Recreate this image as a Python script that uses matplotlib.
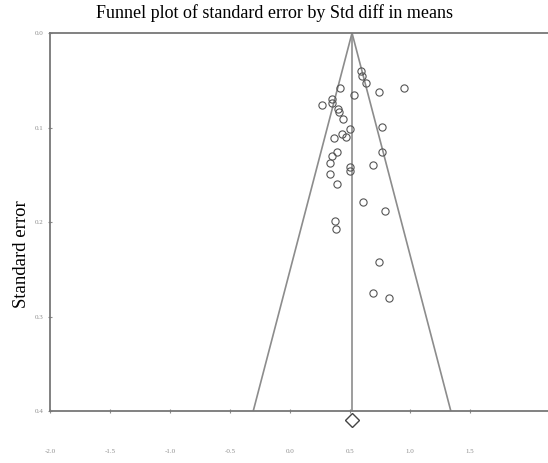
import numpy as np
import matplotlib
matplotlib.use('Agg')
import matplotlib.pyplot as plt

# Study effects (Std diff in means) and standard errors
effect = [0.592, 0.600, 0.633, 0.950, 0.742, 0.417, 0.533, 0.350, 0.350, 0.267,
          0.400, 0.408, 0.442, 0.767, 0.500, 0.433, 0.467, 0.367, 0.767, 0.392,
          0.350, 0.333, 0.692, 0.500, 0.500, 0.333, 0.392, 0.608, 0.792, 0.375,
          0.383, 0.742, 0.692, 0.825]
std_err = [0.040, 0.046, 0.053, 0.058, 0.062, 0.058, 0.066, 0.070, 0.074, 0.076,
           0.080, 0.084, 0.091, 0.099, 0.102, 0.107, 0.110, 0.111, 0.126, 0.126,
           0.130, 0.138, 0.140, 0.142, 0.146, 0.149, 0.160, 0.179, 0.188, 0.199,
           0.207, 0.242, 0.275, 0.280]
pooled = 0.517
se_max = 0.4

x_ticks = [-2.0, -1.5, -1.0, -0.5, 0.0, 0.5, 1.0, 1.5]
y_ticks = [0.0, 0.1, 0.2, 0.3, 0.4]

plt.rcParams['font.family'] = ['Liberation Serif', 'DejaVu Serif']
grey = '#8c8c8c'

fig = plt.figure(figsize=(5.48, 4.63), dpi=100)
ax = fig.add_axes([0.0912, 0.1123, 0.9088, 0.8164])

# funnel and pooled estimate line
se_line = np.array([0.0, se_max])
ax.plot(pooled - 1.96 * 1.05 * se_line, se_line, color=grey, lw=1.2)
ax.plot(pooled + 1.96 * 1.05 * se_line, se_line, color=grey, lw=1.2)
ax.plot([pooled, pooled], [0, se_max], color=grey, lw=1.2)

ax.plot(effect, std_err, linestyle='none', marker='o', markersize=5.2,
        markerfacecolor='none', markeredgecolor='#555555', markeredgewidth=0.8)

# diamond for combined effect below the axis
ax.plot([pooled], [0.41], marker='D', markersize=7, markerfacecolor='white',
        markeredgecolor='#444444', markeredgewidth=1.0, clip_on=False)

ax.set_xlim(-2.0, 2.15)
ax.set_ylim(se_max, 0.0)
ax.set_xticks(x_ticks)
ax.set_xticklabels(['%.1f' % v for v in x_ticks])
ax.set_yticks(y_ticks)
ax.set_yticklabels(['%.1f' % v for v in y_ticks])
ax.tick_params(axis='both', colors=grey, labelsize=5, direction='inout', length=3, width=0.8)
ax.tick_params(axis='x', pad=26)
ax.tick_params(axis='y', pad=3)

for s in ['left', 'top', 'bottom']:
    ax.spines[s].set_color('#777777')
    ax.spines[s].set_linewidth(1.3)
ax.spines['right'].set_visible(False)

ax.set_ylabel('Standard error', fontsize=13.5)
ax.yaxis.set_label_coords(-0.040, 0.415)
fig.suptitle('Funnel plot of standard error by Std diff in means', fontsize=13, y=0.992)

fig.savefig('out.png', dpi=100)
